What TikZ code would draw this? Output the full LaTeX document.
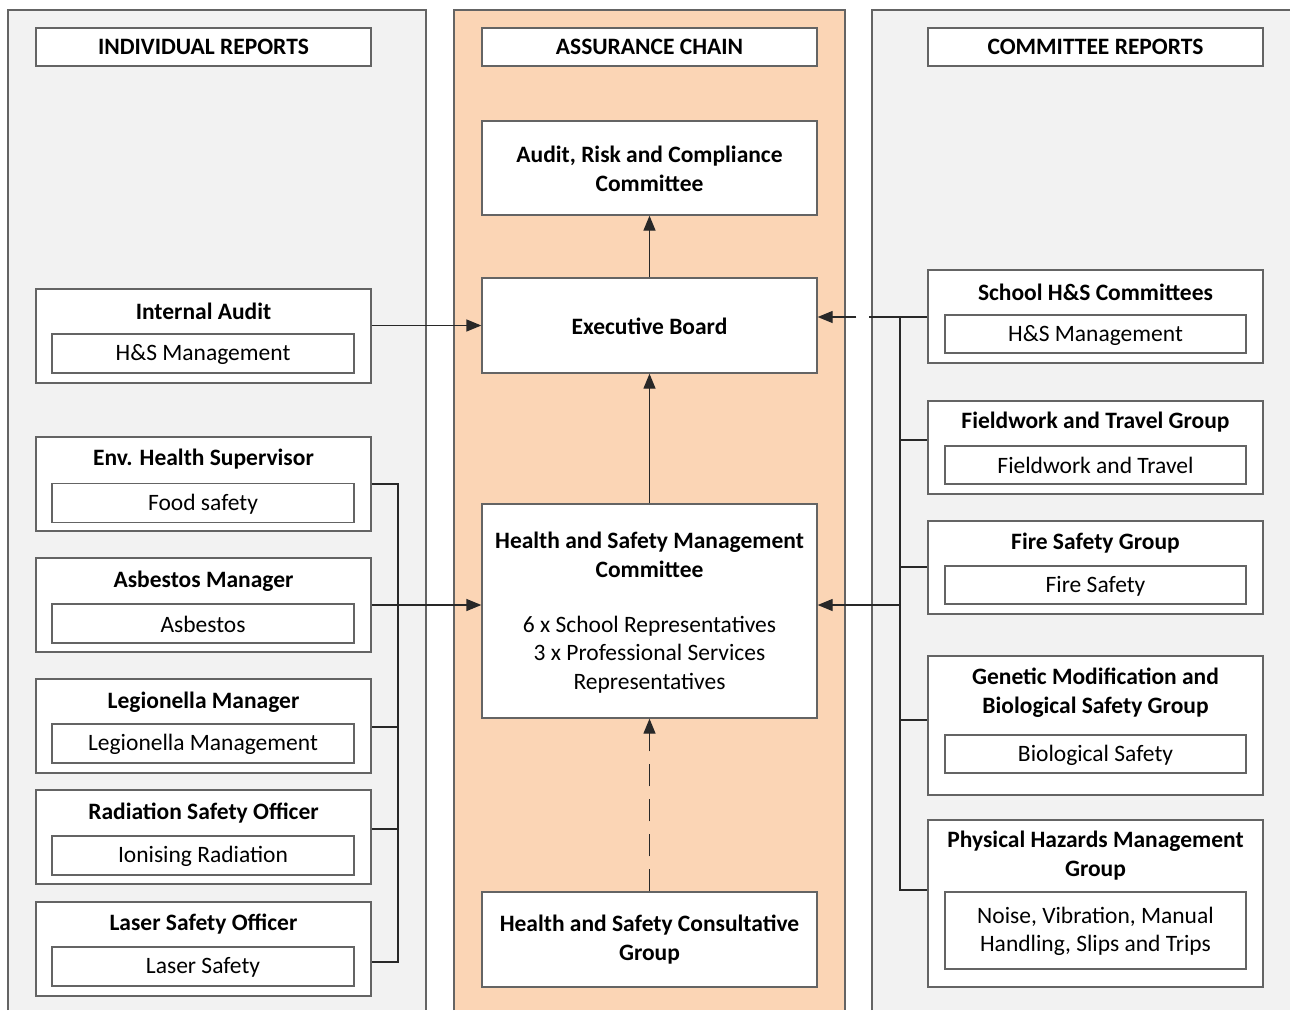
\documentclass[tikz,border=0pt]{standalone}
\usepackage{fontspec}
\setmainfont{Carlito}
\usetikzlibrary{arrows.meta}
\definecolor{panelgray}{RGB}{242,242,242}
\definecolor{peach}{RGB}{251,213,181}
\definecolor{edge}{RGB}{100,100,100}
\definecolor{wire}{RGB}{40,40,40}
\begin{document}
\begin{tikzpicture}[x=1pt,y=-1pt,
  panel/.style={draw=edge,line width=1.3pt},
  box/.style={draw=edge,fill=white,line width=1.3pt,inner sep=0pt},
  hd/.style={font=\fontsize{23.5}{28.5}\selectfont\bfseries,align=center,inner sep=0pt},
  tx/.style={font=\fontsize{23.5}{28.5}\selectfont,align=center,inner sep=0pt},
  conn/.style={draw=wire,line width=1.3pt},
  arr/.style={conn,-{Triangle[length=15pt,width=12pt]}}]
\useasboundingbox (0,0) rectangle (1290,1010);
\fill[white] (0,0) rectangle (1290,1010);
% panels
\fill[panelgray] (8,10) rectangle (426,1010);
\draw[panel] (8,1010) -- (8,10) -- (426,10) -- (426,1010);
\fill[peach] (454,10) rectangle (845,1010);
\draw[panel] (454,1010) -- (454,10) -- (845,10) -- (845,1010);
\fill[panelgray] (872,10) rectangle (1290,1010);
\draw[panel] (872,1010) -- (872,10) -- (1290,10);
% headers
\node[box,minimum width=335,minimum height=38] (hl) at (203.5,47) {};
\node[hd] at (hl) {INDIVIDUAL REPORTS};
\node[box,minimum width=335,minimum height=38] (hm) at (649.5,47) {};
\node[hd] at (hm) {ASSURANCE CHAIN};
\node[box,minimum width=335,minimum height=38] (hr) at (1095.5,47) {};
\node[hd] at (hr) {COMMITTEE REPORTS};
% middle chain
\node[box,minimum width=335,minimum height=94] (audit) at (649.5,168) {};
\node[hd] at (649.5,169) {Audit, Risk and Compliance\\Committee};
\node[box,minimum width=335,minimum height=95] (exec) at (649.5,325.5) {};
\node[hd] at (649.5,326) {Executive Board};
\node[box,minimum width=335,minimum height=214] (hsmc) at (649.5,611) {};
\node[hd] at (649.5,555) {Health and Safety Management\\Committee};
\node[tx] at (649.5,654.5) {6 x School Representatives\\3 x Professional Services\\Representatives};
\node[box,minimum width=335,minimum height=95] (hscg) at (649.5,939.5) {};
\node[hd] at (649.5,939.5) {Health and Safety Consultative\\Group};
% left boxes
\node[box,minimum width=335,minimum height=94] (ia) at (203.5,336) {};
\node[hd] at (203.5,311) {Internal Audit};
\node[box,minimum width=302,minimum height=39] (iai) at (203,353.5) {};
\node[tx] at (203,354.5) {H\&S Management};
\node[box,minimum width=335,minimum height=94] (env) at (203.5,484) {};
\node[hd] at (203.5,459) {Env. Health Supervisor};
\node[box,minimum width=302,minimum height=39] (envi) at (203,503) {};
\node[tx] at (203,504) {Food safety};
\node[box,minimum width=335,minimum height=94] (asb) at (203.5,605) {};
\node[hd] at (203.5,581) {Asbestos Manager};
\node[box,minimum width=302,minimum height=39] (asbi) at (203,623.5) {};
\node[tx] at (203,624.5) {Asbestos};
\node[box,minimum width=335,minimum height=94] (leg) at (203.5,726) {};
\node[hd] at (203.5,702) {Legionella Manager};
\node[box,minimum width=302,minimum height=39] (legi) at (203,743.5) {};
\node[tx] at (203,744.5) {Legionella Management};
\node[box,minimum width=335,minimum height=94] (rad) at (203.5,837) {};
\node[hd] at (203.5,813) {Radiation Safety Officer};
\node[box,minimum width=302,minimum height=39] (radi) at (203,855.5) {};
\node[tx] at (203,856.5) {Ionising Radiation};
\node[box,minimum width=335,minimum height=94] (las) at (203.5,949) {};
\node[hd] at (203.5,924) {Laser Safety Officer};
\node[box,minimum width=302,minimum height=39] (lasi) at (203,966.5) {};
\node[tx] at (203,967.5) {Laser Safety};
% right boxes
\node[box,minimum width=335,minimum height=93] (sch) at (1095.5,316.5) {};
\node[hd] at (1095.5,292) {School H\&S Committees};
\node[box,minimum width=301,minimum height=38] (schi) at (1095.5,334) {};
\node[tx] at (1095.5,335) {H\&S Management};
\node[box,minimum width=335,minimum height=93] (fld) at (1095.5,447.5) {};
\node[hd] at (1095.5,422) {Fieldwork and Travel Group};
\node[box,minimum width=301,minimum height=38] (fldi) at (1095.5,465) {};
\node[tx] at (1095.5,465) {Fieldwork and Travel};
\node[box,minimum width=335,minimum height=93] (fire) at (1095.5,567.5) {};
\node[hd] at (1095.5,543) {Fire Safety Group};
\node[box,minimum width=301,minimum height=38] (firei) at (1095.5,585) {};
\node[tx] at (1095.5,586) {Fire Safety};
\node[box,minimum width=335,minimum height=139] (gen) at (1095.5,725.5) {};
\node[hd] at (1095.5,692.5) {Genetic Modification and\\Biological Safety Group};
\node[box,minimum width=301,minimum height=38] (geni) at (1095.5,754) {};
\node[tx] at (1095.5,755) {Biological Safety};
\node[box,minimum width=335,minimum height=167] (phy) at (1095.5,903.5) {};
\node[hd] at (1095.5,855.5) {Physical Hazards Management\\Group};
\node[box,minimum width=301,minimum height=77] (phyi) at (1095.5,930.5) {};
\node[tx] at (1095.5,931.5) {Noise, Vibration, Manual\\Handling, Slips and Trips};
% middle arrows
\draw[arr] (exec.north) -- (audit.south);
\draw[arr] (hsmc.north) -- (exec.south);
\draw[arr,dash pattern=on 22pt off 13pt] (hscg.north) -- (hsmc.south);
% left connectors
\draw[arr] (ia.east |- exec.west) -- (exec.west);
\draw[arr] (asb.east) -- (asb.east -| hsmc.west);
\coordinate (lbT) at (398,484);
\coordinate (lbB) at (398,962);
\coordinate (lbL) at (398,727);
\coordinate (lbR) at (398,829);
\draw[conn] (env.east) -- (lbT) -- (lbB) -- (las.east |- lbB);
\draw[conn] (lbL) -- (leg.east |- lbL);
\draw[conn] (lbR) -- (rad.east |- lbR);
% right connectors
\coordinate (rbT) at (900,317);
\coordinate (rbB) at (900,890);
\coordinate (rbF) at (900,440);
\coordinate (rbS) at (900,567);
\coordinate (rbG) at (900,720);
\coordinate (rbH) at (900,605);
\draw[arr,dash pattern=on 58pt off 13pt on 60pt] (sch.west |- rbT) -- (exec.east |- rbT);
\draw[conn] (rbT) -- (rbB) -- (phy.west |- rbB);
\draw[conn] (rbF) -- (fld.west |- rbF);
\draw[conn] (rbS) -- (fire.west |- rbS);
\draw[conn] (rbG) -- (gen.west |- rbG);
\draw[arr] (rbH) -- (hsmc.east |- rbH);
\end{tikzpicture}
\end{document}
